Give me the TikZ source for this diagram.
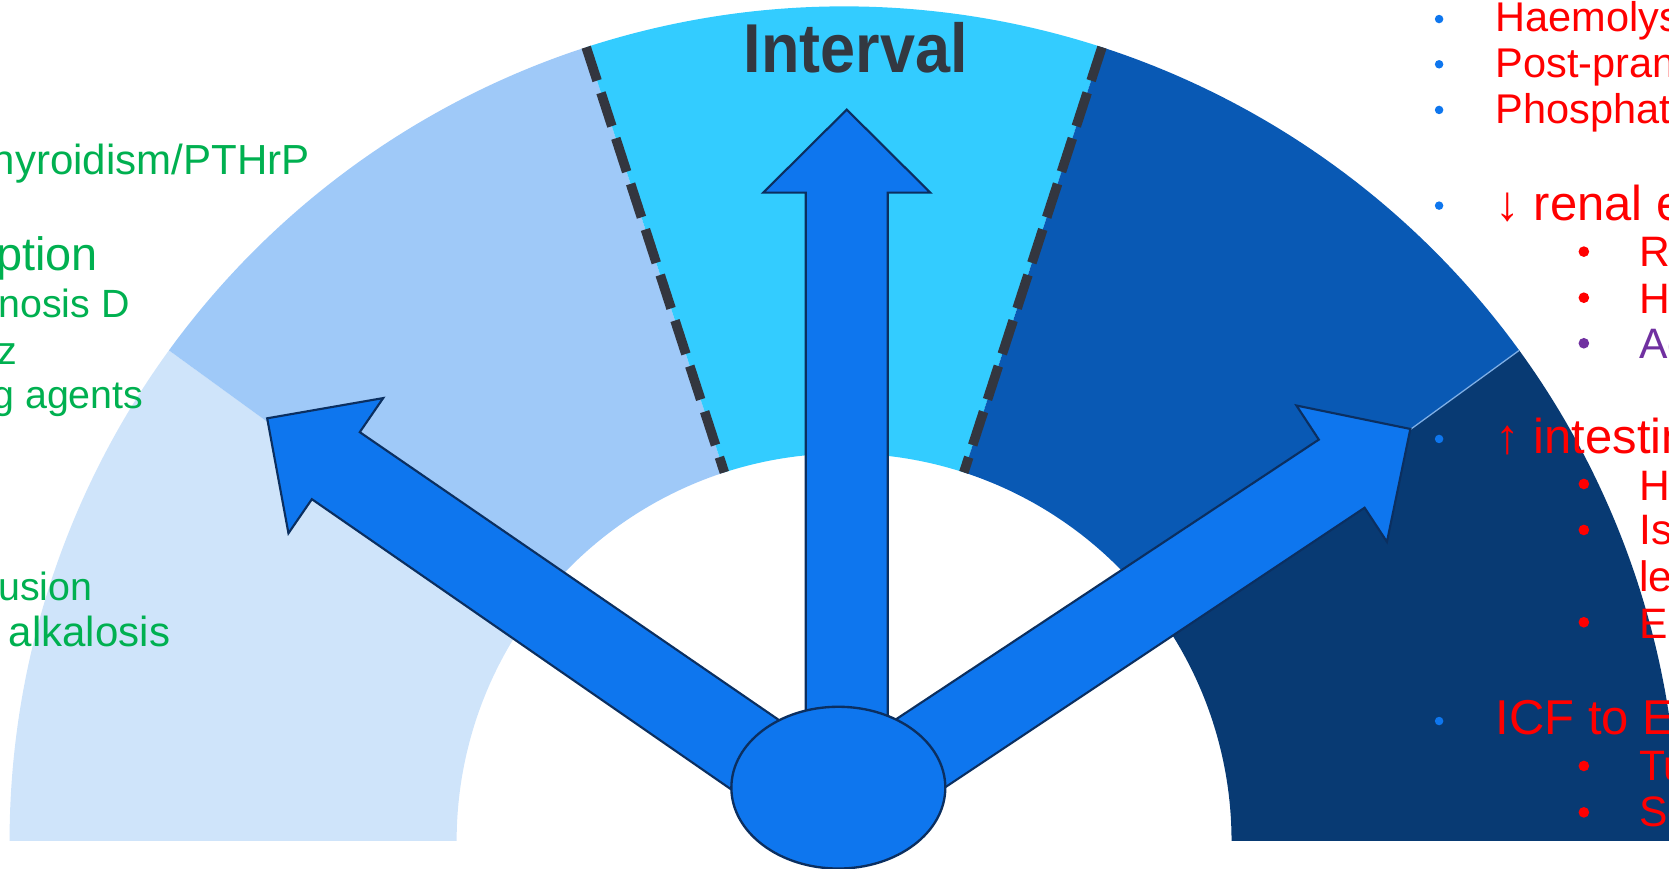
\documentclass[tikz,border=0pt]{standalone}
\usepackage{fontspec}
\usepackage{graphicx}
\setmainfont{Liberation Sans}
\usetikzlibrary{shapes.geometric,calc}
\definecolor{segA}{HTML}{CFE4FA}
\definecolor{segB}{HTML}{9FC9F8}
\definecolor{segC}{HTML}{33CCFF}
\definecolor{segD}{HTML}{0959B4}
\definecolor{segE}{HTML}{083A73}
\definecolor{arrowfill}{HTML}{0E76EE}
\definecolor{arrowline}{HTML}{0B2F60}
\definecolor{dashgray}{HTML}{33363F}
\definecolor{titlegray}{HTML}{333841}
\definecolor{txtgreen}{HTML}{00B050}
\definecolor{txtred}{HTML}{FF0000}
\definecolor{txtpurple}{HTML}{7030A0}
\definecolor{bulblue}{HTML}{0E76EE}
\definecolor{seamline}{HTML}{7FAFE6}
\tikzset{
  bigarrow/.style={fill=arrowfill, draw=arrowline, line width=2pt, line join=miter},
  divider/.style={draw=dashgray, line width=9pt, dash pattern=on 33pt off 12pt},
  greentxt/.style={text=txtgreen, anchor=base east, inner sep=0pt},
  redtop/.style={text=txtred, anchor=base west, inner sep=0pt, font=\fontsize{46}{46}\selectfont},
  redmid/.style={text=txtred, anchor=base west, inner sep=0pt, font=\fontsize{39}{39}\selectfont},
  redsub/.style={text=txtred, anchor=base west, inner sep=0pt, font=\fontsize{40}{40}\selectfont},
}
\begin{document}
\begin{tikzpicture}[x=1pt,y=1pt]
\useasboundingbox (0,0) rectangle (1568,816);
\clip (0,0) rectangle (1568,816);
\coordinate (C) at (793,26);
\def\Ro{784}
\def\Ri{364}
% segments
\foreach \a/\b/\c in {180/144/segA,144/108/segB,108/72/segC,72/36/segD,36/0/segE}{
  \fill[\c] ($(C)+(\a:\Ro pt)$) arc[start angle=\a, end angle=\b, radius=\Ro pt]
     -- ($(C)+(\b:\Ri pt)$) arc[start angle=\b, end angle=\a, radius=\Ri pt] -- cycle;
}
\draw[seamline, line width=1.2pt] ($(C)+(36:\Ri pt)$) -- ($(C)+(36:\Ro pt)$);
% dashed dividers
\coordinate (d1o) at ($(C)+(108:\Ro pt)$);
\coordinate (d1i) at ($(C)+(108:\Ri pt)$);
\coordinate (d2o) at ($(C)+(72:\Ro pt)$);
\coordinate (d2i) at ($(C)+(72:\Ri pt)$);
\draw[divider] (d1o) -- (d1i);
\draw[divider] (d2o) -- (d2i);
% title
\node[text=titlegray, anchor=base, inner sep=0pt, font=\fontsize{65}{65}\selectfont\bfseries] (title) at (804,748) {\scalebox{0.91}[1]{Interval}};
% left texts
\node[greentxt, font=\fontsize{39.5}{39.5}\selectfont] (l1) at (291,652) {hyroidism/PTHrP};
\node[greentxt, font=\fontsize{44}{44}\selectfont] (l2) at (92,561.7) {ption};
\node[greentxt, font=\fontsize{37}{37}\selectfont] (l3) at (122,517.4) {nosis D};
\node[greentxt, font=\fontsize{37}{37}\selectfont] (l4) at (16,473.8) {z};
\node[greentxt, font=\fontsize{37}{37}\selectfont] (l5) at (135,431.8) {g agents};
\node[greentxt, font=\fontsize{37}{37}\selectfont] (l6) at (87,252.3) {usion};
\node[greentxt, font=\fontsize{39.5}{39.5}\selectfont] (l7) at (160,208.7) {alkalosis};
% right texts
\foreach \y in {798.1,755.6,712.7,622.8,403.6,138.6}{\fill[bulblue] (1352,\y) circle[radius=4pt];}
\foreach \y in {579.6,536.3,361.3,318.1,231.4,96.4,52.8}{\fill[txtred] (1488,\y) circle[radius=5pt];}
\fill[txtpurple] (1488,493.5) circle[radius=5pt];
\node[redmid] (r1) at (1405,786.2) {Haemolys};
\node[redmid] (r2) at (1405,743) {Post-pran};
\node[redmid] (r3) at (1405,700.2) {Phosphat};
\node[redtop] (r4) at (1405,609.3) {↓ renal e};
\node[redsub] (r5) at (1540,565.5) {R};
\node[redsub] (r6) at (1540,521.6) {H};
\node[redsub, text=txtpurple] (r7) at (1540,479.4) {Ac};
\node[redtop] (r8) at (1405,390.1) {↑ intestin};
\node[redsub] (r9) at (1540,346.2) {H};
\node[redsub] (r10) at (1540,304) {Is};
\node[redsub] (r11) at (1540,260) {le};
\node[redsub] (r12) at (1540,216.3) {E};
\node[redtop] (r13) at (1405,125.5) {ICF to E};
\node[redsub] (r14) at (1540,83.2) {Tu};
\node[redsub] (r15) at (1540,39.3) {Se};
% arrows
\draw[bigarrow] (757,110) -- (757,635) -- (717,635) -- (795.5,713) -- (874,635) -- (834,635) -- (834,110) -- cycle;
\draw[bigarrow] (725,48) -- (293,347) -- (271,315) -- (251,423) -- (360,442) -- (338,410) -- (769,114) -- cycle;
\draw[bigarrow] (784,102) -- (1239,403) -- (1218,435) -- (1325,413) -- (1303,307) -- (1282,339) -- (829,37) -- cycle;
% hub
\node[ellipse, fill=arrowfill, draw=arrowline, line width=2.2pt, minimum width=201pt, minimum height=152pt, inner sep=0pt] (hub) at (787.6,76) {};
\end{tikzpicture}
\end{document}
